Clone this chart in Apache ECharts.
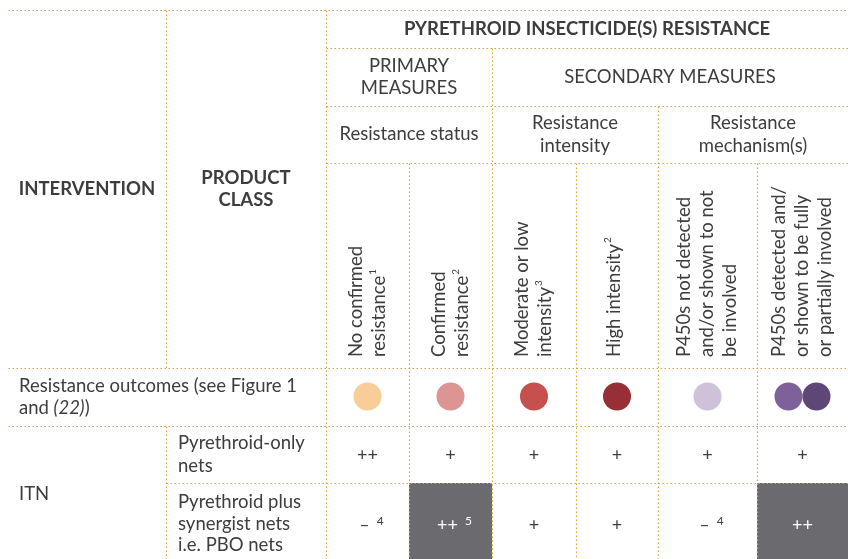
<!DOCTYPE html>
<html>
<head>
<meta charset="utf-8">
<script src="https://cdn.jsdelivr.net/npm/echarts@6/dist/echarts.min.js"></script>
<style>
  html, body { margin: 0; padding: 0; background: #fff; }
  #main { width: 848px; height: 559px; }
</style>
</head>
<body>
<div id="main"></div>
<script>
// ---- table content ----
var topHeader = 'PYRETHROID INSECTICIDE(S) RESISTANCE';
var measureGroups = ['PRIMARY\nMEASURES', 'SECONDARY MEASURES'];
var measureTypes = ['Resistance status', 'Resistance\nintensity', 'Resistance\nmechanism(s)'];
var stubHeaders = ['INTERVENTION', 'PRODUCT\nCLASS'];
// rotated column labels, [text lines, superscript on last line]
var columnLabels = [
  [['No confirmed', 'resistance'], '1'],
  [['Confirmed', 'resistance'], '2'],
  [['Moderate or low', 'intensity'], '3'],
  [['High intensity'], '2'],
  [['P450s not detected', 'and/or shown to not', 'be involved'], ''],
  [['P450s detected and/', 'or shown to be fully', 'or partially involved'], '']
];
var outcomeLabel = 'Resistance outcomes (see Figure 1';
var outcomeColors = [['#f8cd98'], ['#dc9593'], ['#c6504e'], ['#972f37'], ['#cfc1da'], ['#7f6199', '#5e4776']];
var intervention = 'ITN';
var productClasses = ['Pyrethroid-only\nnets', 'Pyrethroid plus\nsynergist nets\ni.e. PBO nets'];
var pyrethroidOnly = [['++', ''], ['+', ''], ['+', ''], ['+', ''], ['+', ''], ['+', '']];
var pboNets = [['\u2013', '4'], ['++', '5'], ['+', ''], ['+', ''], ['\u2013', '4'], ['++', '']];
var pboPreferred = [0, 1, 0, 0, 0, 1];

// ---- layout (value-axis units, one per pixel) ----
var colEdges = [8, 166, 326, 409, 492, 576, 658, 757, 848];
var rowEdges = [10, 48, 106, 163, 368, 426, 483, 559];
var W = 848, H = 559;
var lineColor = '#d6a236';
var textColor = '#3d3d40';
var FONT = 'Lato, "Noto Sans", sans-serif';
var FS = 18.5;

function cx(c) { return (colEdges[c + 2] + colEdges[c + 3]) / 2; } // value columns 0..5

// table rules, built from edges
var hLines = [
  [colEdges[0], colEdges[8], rowEdges[0]],
  [colEdges[2], colEdges[8], rowEdges[1]],
  [colEdges[2], colEdges[8], rowEdges[2]],
  [colEdges[2], colEdges[8], rowEdges[3]],
  [colEdges[0], colEdges[8], rowEdges[4]],
  [colEdges[0], colEdges[8], rowEdges[5]],
  [colEdges[1], colEdges[8], rowEdges[6]]
];
var vLines = [
  [colEdges[1], rowEdges[0], rowEdges[4]],
  [colEdges[1], rowEdges[5], rowEdges[7]],
  [colEdges[2], rowEdges[0], rowEdges[7]],
  [colEdges[3], rowEdges[3], rowEdges[7]],
  [colEdges[4], rowEdges[1], rowEdges[7]],
  [colEdges[5], rowEdges[3], rowEdges[7]],
  [colEdges[6], rowEdges[2], rowEdges[7]],
  [colEdges[7], rowEdges[3], rowEdges[7]]
];
var ruleData = [];
hLines.forEach(function (l) { ruleData.push([l[0], l[2], l[1], l[2]]); });
vLines.forEach(function (l) { ruleData.push([l[0], l[1], l[0], l[2]]); });

// shaded cells
var shadeData = [];
pboPreferred.forEach(function (p, i) {
  if (p) shadeData.push([colEdges[i + 2], rowEdges[6], colEdges[i + 3], rowEdges[7]]);
});

// circles
var dotData = [];
outcomeColors.forEach(function (cols, i) {
  var n = cols.length;
  cols.forEach(function (col, k) {
    var off = n === 1 ? 0 : (k === 0 ? -14 : 14);
    dotData.push({ value: [cx(i) + off, (rowEdges[4] + rowEdges[5]) / 2 - 0.5], itemStyle: { color: col, opacity: 1 } });
  });
});

// text items
var texts = [];
function addText(x, y, rich, opt) {
  texts.push(Object.assign({ x: x, y: y, text: rich }, opt || {}));
}
var rich = {
  b: { fontFamily: FONT, fontWeight: 'bold', fontSize: 18.5, fill: textColor, lineHeight: 22 },
  t: { fontFamily: FONT, fontSize: FS, fill: textColor, lineHeight: 22.5 },
  r: { fontFamily: FONT, fontSize: FS, fill: textColor, lineHeight: 23 },
  p: { fontFamily: FONT, fontSize: FS, fill: textColor, lineHeight: 21.5 },
  i: { fontFamily: FONT, fontSize: FS, fontStyle: 'italic', fill: textColor, lineHeight: 22.5 },
  s: { fontFamily: FONT, fontSize: 10, fill: textColor, verticalAlign: 'top', lineHeight: 23, padding: [0, 0, 0, 1] },
  v: { fontFamily: FONT, fontSize: 18, fill: textColor, lineHeight: 20 },
  vs: { fontFamily: FONT, fontSize: 12, fill: textColor, verticalAlign: 'top', lineHeight: 20, padding: [0, 0, 0, 7] },
  w: { fontFamily: FONT, fontSize: 18, fill: '#ffffff', lineHeight: 20 },
  ws: { fontFamily: FONT, fontSize: 12, fill: '#ffffff', verticalAlign: 'top', lineHeight: 20, padding: [0, 0, 0, 7] }
};
function wrap(style, s) {
  return s.split('\n').map(function (l) { return '{' + style + '|' + l + '}'; }).join('\n');
}
addText((colEdges[2] + colEdges[8]) / 2, (rowEdges[0] + rowEdges[1]) / 2, wrap('b', topHeader));
addText((colEdges[2] + colEdges[4]) / 2, (rowEdges[1] + rowEdges[2]) / 2, wrap('t', measureGroups[0]));
addText((colEdges[4] + colEdges[8]) / 2, (rowEdges[1] + rowEdges[2]) / 2, wrap('t', measureGroups[1]));
addText((colEdges[2] + colEdges[4]) / 2, (rowEdges[2] + rowEdges[3]) / 2, wrap('t', measureTypes[0]));
addText((colEdges[4] + colEdges[6]) / 2, (rowEdges[2] + rowEdges[3]) / 2, wrap('t', measureTypes[1]));
addText((colEdges[6] + colEdges[8]) / 2, (rowEdges[2] + rowEdges[3]) / 2, wrap('t', measureTypes[2]));
addText((colEdges[0] + colEdges[1]) / 2, (rowEdges[0] + rowEdges[4]) / 2, wrap('b', stubHeaders[0]));
addText((colEdges[1] + colEdges[2]) / 2, (rowEdges[0] + rowEdges[4]) / 2, wrap('b', stubHeaders[1]));
columnLabels.forEach(function (cl, i) {
  var lines = cl[0].map(function (l, k) {
    var s = '{r|' + l + '}';
    if (k === cl[0].length - 1 && cl[1]) s += '{s|' + cl[1] + '}';
    return s;
  });
  addText(cx(i) - (cl[0].length === 1 ? 3 : 0), rowEdges[4] - 11, lines.join('\n'), { rotate: true });
});
addText(colEdges[0] + 11, (rowEdges[4] + rowEdges[5]) / 2, '{t|' + outcomeLabel + '}\n{t|and }{i|(22)}{t|)}', { align: 'left' });
addText(colEdges[0] + 11, (rowEdges[5] + rowEdges[7]) / 2 + 2, wrap('t', intervention), { align: 'left' });
addText(colEdges[1] + 12, (rowEdges[5] + rowEdges[6]) / 2, wrap('t', productClasses[0]), { align: 'left' });
addText(colEdges[1] + 12, (rowEdges[6] + rowEdges[7]) / 2 + 3, wrap('p', productClasses[1]), { align: 'left' });
pyrethroidOnly.forEach(function (v, i) {
  addText(cx(i), (rowEdges[5] + rowEdges[6]) / 2 + 1, '{v|' + v[0] + '}' + (v[1] ? '{vs|' + v[1] + '}' : ''));
});
pboNets.forEach(function (v, i) {
  var a = pboPreferred[i] ? 'w' : 'v', b = pboPreferred[i] ? 'ws' : 'vs';
  var s = '{' + a + '|' + v[0] + '}' + (v[1] ? '{' + b + '|' + v[1] + '}' : '');
  addText(cx(i) + (v[1] ? 4 : 0), rowEdges[6] + 42, s);
});

var chart = echarts.init(document.getElementById('main'), null, { renderer: 'canvas' });
chart.setOption({
  animation: false,
  grid: { left: 0, right: 0, top: 0, bottom: 0 },
  xAxis: { type: 'value', min: 0, max: W, show: false },
  yAxis: { type: 'value', min: 0, max: H, inverse: true, show: false },
  series: [
    {
      type: 'custom',
      data: shadeData,
      renderItem: function (params, api) {
        var p0 = api.coord([api.value(0), api.value(1)]);
        var p1 = api.coord([api.value(2), api.value(3)]);
        return { type: 'rect', shape: { x: p0[0], y: p0[1], width: p1[0] - p0[0], height: p1[1] - p0[1] }, style: { fill: '#6b6b6f' } };
      }
    },
    {
      type: 'custom',
      data: ruleData,
      renderItem: function (params, api) {
        var p0 = api.coord([api.value(0), api.value(1)]);
        var p1 = api.coord([api.value(2), api.value(3)]);
        return {
          type: 'line',
          shape: { x1: p0[0] + 0.5, y1: p0[1] + 0.5, x2: p1[0] + 0.5, y2: p1[1] + 0.5 },
          style: { stroke: lineColor, lineWidth: 1.2, lineDash: [1.5, 2.5] }
        };
      }
    },
    {
      type: 'scatter',
      symbol: 'circle',
      symbolSize: 28,
      data: dotData,
      z: 3
    },
    {
      type: 'custom',
      data: texts.map(function (t, i) { return [t.x, t.y, i]; }),
      z: 4,
      renderItem: function (params, api) {
        var t = texts[api.value(2)];
        var p = api.coord([api.value(0), api.value(1)]);
        return {
          type: 'text',
          x: p[0], y: p[1],
          rotation: t.rotate ? Math.PI / 2 : 0,
          style: {
            text: t.text,
            rich: rich,
            align: t.rotate ? 'left' : (t.align || 'center'),
            verticalAlign: 'middle',
            fill: textColor
          }
        };
      }
    }
  ]
});
</script>
</body>
</html>
